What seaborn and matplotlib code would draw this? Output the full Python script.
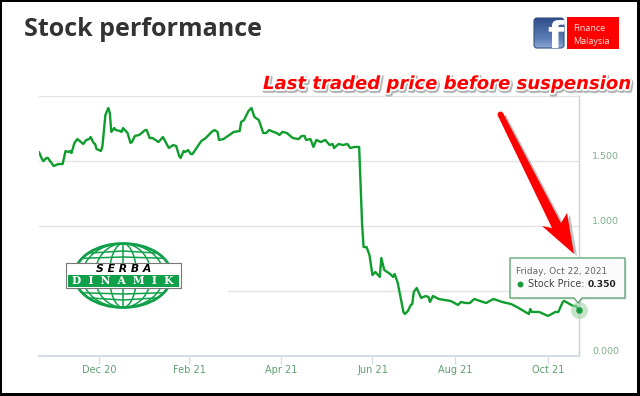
import numpy as np
import pandas as pd
import matplotlib
matplotlib.use('Agg')
import matplotlib.pyplot as plt
import matplotlib.patheffects as pe
from matplotlib.patches import Circle, Ellipse, FancyBboxPatch, Polygon, Rectangle
from matplotlib.colors import LinearSegmentedColormap
import seaborn as sns

# position along the (ordinal) time axis, 0 = first session shown
session = [0, 2, 3, 5, 6, 10, 13, 16, 18, 20, 21, 22, 24, 26, 30, 32, 34, 35, 37, 38, 39, 42, 43, 45, 47, 48, 49,
           51, 52, 55, 56, 57, 60, 62, 63, 65, 68, 72, 73, 75, 77, 81, 84, 88, 91, 93, 95, 96, 98, 99, 101, 103,
           104, 110, 113, 117, 119, 121, 122, 125, 132, 136, 137, 139, 142, 144, 146, 149, 152, 154, 156, 159,
           161, 163, 165, 168, 172, 176, 178, 180, 181, 184, 186, 188, 191, 194, 197, 199, 200, 203, 206, 209,
           211, 214, 217, 219, 220, 222, 224, 226, 228, 231, 232, 234, 238, 240, 241, 243, 247, 248, 250, 252,
           253, 254, 256, 259, 262, 264, 265, 267, 271, 275, 279, 284, 286, 289, 292, 295, 303, 308, 314, 320,
           324, 332, 333, 334, 339, 345, 350, 352, 355, 356, 362, 364, 366]
price = [1.570, 1.516, 1.500, 1.524, 1.524, 1.462, 1.477, 1.477, 1.578, 1.570, 1.578, 1.562, 1.640, 1.670, 1.632,
         1.663, 1.670, 1.686, 1.640, 1.632, 1.593, 1.578, 1.616, 1.856, 1.910, 1.871, 1.725, 1.755, 1.740, 1.732,
         1.725, 1.755, 1.717, 1.640, 1.647, 1.694, 1.702, 1.740, 1.740, 1.678, 1.678, 1.647, 1.686, 1.601, 1.624,
         1.616, 1.539, 1.524, 1.578, 1.570, 1.585, 1.554, 1.554, 1.655, 1.678, 1.725, 1.740, 1.725, 1.663, 1.670,
         1.725, 1.732, 1.802, 1.817, 1.887, 1.910, 1.840, 1.817, 1.717, 1.717, 1.740, 1.725, 1.717, 1.702, 1.725,
         1.717, 1.678, 1.670, 1.694, 1.694, 1.663, 1.670, 1.609, 1.663, 1.647, 1.663, 1.624, 1.632, 1.601, 1.632,
         1.624, 1.632, 1.601, 1.609, 1.609, 1.007, 0.837, 0.837, 0.775, 0.621, 0.644, 0.606, 0.752, 0.660, 0.629,
         0.606, 0.629, 0.567, 0.336, 0.320, 0.343, 0.390, 0.397, 0.490, 0.521, 0.444, 0.459, 0.451, 0.413, 0.459,
         0.436, 0.428, 0.421, 0.390, 0.413, 0.405, 0.405, 0.436, 0.405, 0.436, 0.413, 0.397, 0.374, 0.320, 0.359,
         0.336, 0.336, 0.305, 0.336, 0.336, 0.413, 0.421, 0.382, 0.382, 0.350]
x_ticks = [41, 102, 164, 226, 282, 345]
x_labels = ['Dec 20', 'Feb 21', 'Apr 21', 'Jun 21', 'Aug 21', 'Oct 21']
y_ticks = [0, 0.5, 1, 1.5, 2]
y_labels = ['0.000', '', '1.000', '1.500', '']  # 0.500 sits behind the tooltip

GREEN = '#0f9d2d'
W, H = 640, 396

sns.set_theme(style='white')
fig = plt.figure(figsize=(W / 100, H / 100), dpi=100, facecolor='white')
ax = fig.add_axes([39 / W, 1 - 355.5 / H, 540 / W, 259.2 / H])

df = pd.DataFrame({'session': session, 'price': price})
sns.lineplot(data=df, x='session', y='price', color=GREEN, lw=1.7, estimator=None, ax=ax, zorder=3)
ax.scatter(session[-1], price[-1], s=150, color='#9fd4a8', alpha=0.6, lw=0, clip_on=False, zorder=4)
ax.scatter(session[-1], price[-1], s=22, color='#1a9a3c', lw=0, clip_on=False, zorder=5)

ax.set_xlim(0, 366)
ax.set_ylim(0, 2)
ax.set_xlabel('')
ax.set_ylabel('')
ax.set_xticks(x_ticks, x_labels)
ax.yaxis.tick_right()
ax.set_yticks(y_ticks, y_labels)
ax.grid(axis='y', color='#e4e4e4', lw=1)
ax.tick_params(axis='x', bottom=True, length=6, width=1, color='#d5dce8', labelcolor='#5f9f6f', labelsize=7, pad=0.5)
ax.tick_params(axis='y', length=0, labelcolor='#7fae8a', labelsize=6.8, pad=9.5)
for t in ax.get_yticklabels():
    t.set_va('bottom')
sns.despine(ax=ax, left=True, top=True, right=False)
ax.spines['bottom'].set_color('#d5dce8')
ax.spines['bottom'].set_linewidth(1.5)
ax.spines['right'].set_color('#cfcfcf')
ax.spines['right'].set_linewidth(1)

# overlay in pixel coordinates for the pasted-on decorations
ov = fig.add_axes([0, 0, 1, 1], facecolor='none')
ov.axis('off')

for x0, y0, w, h in [(0, 0, 2, H), (0, 0, W, 2), (637, 0, 3, H), (0, 393, W, 3)]:
    ov.add_patch(Rectangle((x0, y0), w, h, fc='black', ec='none', zorder=20))
ov.text(24, 36, 'Stock performance', fontsize=18, fontweight='bold', family='Open Sans', color='#333333')

# facebook badge
cmap = LinearSegmentedColormap.from_list('fb', ['#2d4a8a', '#45659f', '#5b7bb5', '#93acd8'])
img = ov.imshow(np.linspace(0, 1, 50).reshape(-1, 1), extent=(533, 565, 49, 17), cmap=cmap, aspect='auto', zorder=1)
box = FancyBboxPatch((534, 18), 30, 30, boxstyle='round,pad=0,rounding_size=3', fc='none', ec='#33507f', lw=0.8, zorder=2)
ov.add_patch(box)
img.set_clip_path(box)
f = ov.text(555, 48, 'f', fontsize=27, fontweight='bold', color='white', ha='center', va='baseline', zorder=3)
f.set_clip_path(box)
ov.add_patch(Rectangle((567, 17), 52, 32, fc='#ff0000', ec='none'))
ov.text(573, 31, 'Finance', fontsize=6.5, color='#f5e6e6', family='Open Sans')
ov.text(573, 44, 'Malaysia', fontsize=6.5, color='#f5e6e6', family='Open Sans')

# red caption
ov.text(263, 89, 'Last traded price before suspension', fontsize=13, fontweight='bold', style='italic',
        color='#ff0000', path_effects=[pe.Stroke(linewidth=3.2, foreground='#b5b5b5', offset=(0.8, -1.2)),
                                       pe.Stroke(linewidth=2.6, foreground='white'),
                                       pe.Normal()])

# red arrow
arrow = [(498, 116), (503, 113), (561, 223), (567, 213), (574, 254), (542, 226), (552, 228)]
ov.add_patch(Polygon([(a + 3, b + 2) for a, b in arrow], fc='#888888', ec='none', alpha=0.5, zorder=6))
ov.add_patch(Polygon(arrow, fc='#ff0000', ec='none', zorder=7))
ov.add_patch(Circle((500.5, 114.5), 2.9, fc='#ff0000', ec='none', zorder=7))

# tooltip
tip = [(510, 258), (625, 258), (625, 298), (582, 298), (578, 303), (574, 298), (510, 298)]
ov.add_patch(Polygon([(a + 1.5, b + 1.5) for a, b in tip], fc='#999999', ec='none', alpha=0.35, zorder=8))
ov.add_patch(Polygon(tip, fc='#fbfbfb', ec='#5fa873', lw=1, zorder=9))
ov.text(516, 274, 'Friday, Oct 22, 2021', fontsize=6.5, color='#666666', zorder=10)
ov.scatter([520], [284], s=18, color='#1a9a3c', lw=0, zorder=10)
ov.text(527.5, 287, 'Stock Price:', fontsize=6.9, color='#444444', zorder=10)
ov.text(588, 287, '0.350', fontsize=6.6, fontweight='bold', color='#222222', zorder=10)

# company logo
ov.add_patch(Rectangle((38, 232), 190, 76, fc='white', ec='none', zorder=2))
LG = '#10a04a'
globe = Ellipse((123, 275.5), 97, 64, fc='white', ec=LG, lw=2, zorder=3)
ov.add_patch(globe)
for w in (0.28, 0.58, 0.84):
    m = Ellipse((123, 275.5), 97 * w, 64, fc='none', ec=LG, lw=1.1, zorder=3)
    ov.add_patch(m)
    m.set_clip_path(globe)
ov.plot([123, 123], [244, 307], color=LG, lw=1.1, zorder=3)
for yy, dip in ((251, 3), (257, 1.5), (294, -1.5), (300, -3)):
    xs = np.array([74, 123, 172])
    ln, = ov.plot(xs, [yy + dip, yy, yy + dip], color=LG, lw=1.1, zorder=3)
    ln.set_clip_path(globe)
ov.add_patch(Rectangle((66, 263), 115, 25, fc='white', ec='#777777', lw=0.8, zorder=4))
ov.add_patch(Rectangle((68, 275), 111, 12, fc=LG, ec='none', zorder=4))
ov.text(124, 269, 'S E R B A', fontsize=7.8, fontweight='bold', style='italic', color='black', ha='center',
        va='center', zorder=5)
ov.text(123, 281, 'D  I  N  A  M  I  K', fontsize=7.6, fontweight='bold', family='DejaVu Serif', color='white',
        ha='center', va='center', zorder=5)

# imshow and plot rescale the overlay, so fix its limits last
ov.set_xlim(0, W)
ov.set_ylim(H, 0)

fig.savefig('out.png', dpi=100)
